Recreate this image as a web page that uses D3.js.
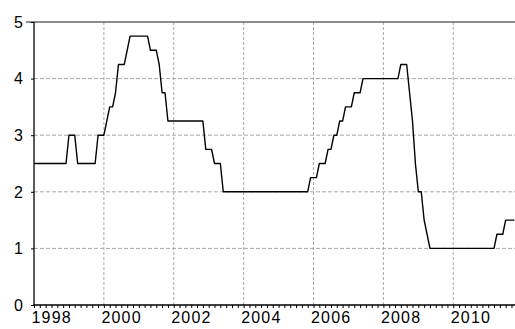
<!DOCTYPE html>
<html><head><meta charset="utf-8">
<script src="https://cdn.jsdelivr.net/npm/d3@7"></script>
<style>
html,body{margin:0;padding:0;background:#fff;}
svg{display:block;}
text{font-family:"Liberation Sans",Arial,Helvetica,sans-serif;}
</style></head>
<body>
<svg id="chart" width="515" height="329"></svg>
<script>
// Monthly series, 1998M01 .. 2011M10
const startYear = 1998;
const values1998 = [2.5,2.5,2.5,2.5,2.5,2.5,2.5,2.5,2.5,2.5,2.5,2.5];
const values1999 = [3.0,3.0,3.0,2.5,2.5,2.5,2.5,2.5,2.5,2.5,3.0,3.0];
const values2000 = [3.0,3.25,3.5,3.5,3.75,4.25,4.25,4.25,4.5,4.75,4.75,4.75];
const values2001 = [4.75,4.75,4.75,4.75,4.5,4.5,4.5,4.25,3.75,3.75,3.25,3.25];
const values2002 = [3.25,3.25,3.25,3.25,3.25,3.25,3.25,3.25,3.25,3.25,3.25,2.75];
const values2003 = [2.75,2.75,2.5,2.5,2.5,2.0,2.0,2.0,2.0,2.0,2.0,2.0];
const values2004 = [2.0,2.0,2.0,2.0,2.0,2.0,2.0,2.0,2.0,2.0,2.0,2.0];
const values2005 = [2.0,2.0,2.0,2.0,2.0,2.0,2.0,2.0,2.0,2.0,2.0,2.25];
const values2006 = [2.25,2.25,2.5,2.5,2.5,2.75,2.75,3.0,3.0,3.25,3.25,3.5];
const values2007 = [3.5,3.5,3.75,3.75,3.75,4.0,4.0,4.0,4.0,4.0,4.0,4.0];
const values2008 = [4.0,4.0,4.0,4.0,4.0,4.0,4.25,4.25,4.25,3.75,3.25,2.5];
const values2009 = [2.0,2.0,1.5,1.25,1.0,1.0,1.0,1.0,1.0,1.0,1.0,1.0];
const values2010 = [1.0,1.0,1.0,1.0,1.0,1.0,1.0,1.0,1.0,1.0,1.0,1.0];
const values2011 = [1.0,1.0,1.0,1.25,1.25,1.25,1.5,1.5,1.5,1.5];

const yearlyValues = [values1998,values1999,values2000,values2001,values2002,values2003,values2004,
  values2005,values2006,values2007,values2008,values2009,values2010,values2011];

const yTicks = [0,1,2,3,4,5];
const xLabelYears = [1998,2000,2002,2004,2006,2008,2010];

// build table: time (fractional year) and value
const data = [];
yearlyValues.forEach((arr,i)=>{
  arr.forEach((v,m)=>{ data.push({t:(startYear+i)+m/12, v:v}); });
});

const svg = d3.select("#chart");
const mLeft = 34, mRight = 514.4, mTop = 22, mBottom = 305;
const x = d3.scaleLinear().domain([1998, data[data.length-1].t]).range([mLeft, mRight]);
const y = d3.scaleLinear().domain([0,5]).range([mBottom, mTop]);

// horizontal grid
svg.append("g").selectAll("line").data(yTicks.filter(d=>d>0 && d<5)).join("line")
  .attr("x1", mLeft).attr("x2", 515).attr("y1", d=>y(d)).attr("y2", d=>y(d))
  .attr("stroke","#a8a8a8").attr("stroke-width",1).attr("stroke-dasharray","4,2");
// vertical grid
svg.append("g").selectAll("line").data(xLabelYears.filter(d=>d>1998)).join("line")
  .attr("x1", d=>x(d)).attr("x2", d=>x(d)).attr("y1", mTop).attr("y2", mBottom)
  .attr("stroke","#a8a8a8").attr("stroke-width",1).attr("stroke-dasharray","3,2");

// top frame
svg.append("line").attr("x1",26).attr("x2",515).attr("y1",y(5)).attr("y2",y(5))
  .attr("stroke","#666").attr("stroke-width",1.6);

// x axis with minor ticks every 2 months
const minorTicks = d3.range(0, (data[data.length-1].t-1998)*6+0.01).map(k=>1998+k/6);
const xAxis = d3.axisBottom(x).tickValues(minorTicks).tickSize(3).tickFormat("");
const gx = svg.append("g").attr("transform",`translate(0,${mBottom})`).call(xAxis);
gx.select(".domain").remove();
gx.selectAll(".tick line").attr("stroke","#000").attr("stroke-width",1);
svg.append("line").attr("x1",mLeft-0.5).attr("x2",515).attr("y1",mBottom).attr("y2",mBottom)
  .attr("stroke","#000").attr("stroke-width",1.3);

svg.append("g").selectAll("text").data(xLabelYears).join("text")
  .attr("x", d=>x(d)-2.5).attr("y", 323)
  .attr("font-size","16px").attr("letter-spacing","1.2px").attr("fill","#000")
  .text(d=>d);

// y axis
const yAxis = d3.axisLeft(y).tickValues(yTicks).tickSize(3).tickFormat("");
const gy = svg.append("g").attr("transform",`translate(${mLeft},0)`).call(yAxis);
gy.select(".domain").remove();
gy.selectAll(".tick line").attr("stroke","#000");
svg.append("line").attr("x1",mLeft).attr("x2",mLeft).attr("y1",mTop).attr("y2",mBottom+0.6)
  .attr("stroke","#000").attr("stroke-width",1.3);
svg.append("g").selectAll("text").data(yTicks).join("text")
  .attr("x", 23).attr("y", d=>y(d)).attr("dy","0.36em").attr("text-anchor","end")
  .attr("font-size","16px").attr("fill","#000").text(d=>d);

// series line
const line = d3.line().x(d=>x(d.t)).y(d=>y(d.v));
svg.append("path").datum(data).attr("d", line)
  .attr("fill","none").attr("stroke","#000").attr("stroke-width",1.4)
  .attr("stroke-linejoin","round");
</script>
</body></html>
